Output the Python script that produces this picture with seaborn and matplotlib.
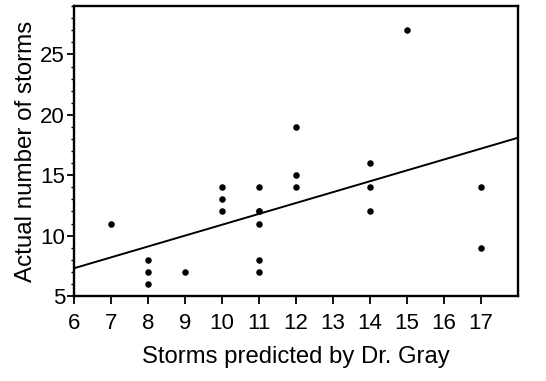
import matplotlib
matplotlib.use("Agg")
import matplotlib.pyplot as plt
import seaborn as sns
import pandas as pd
from matplotlib.ticker import MultipleLocator

sns.set_theme(style="ticks")
plt.rcParams["font.family"] = ["Liberation Sans", "DejaVu Sans"]

# Storm counts: Dr. Gray's predicted number vs. the actual number of storms
predicted = [7, 8, 8, 8, 9, 10, 10, 10, 11, 11, 11, 11, 11, 11,
             12, 12, 12, 14, 14, 14, 15, 17, 17]
actual = [11, 8, 7, 6, 7, 14, 13, 12, 14, 12, 12, 11, 8, 7,
          19, 15, 14, 16, 14, 12, 27, 14, 9]

# Fitted least-squares line (actual = intercept + slope * predicted)
fit_intercept = 1.9
fit_slope = 0.9
line_x = [6, 18]

x_ticks = list(range(6, 18))
y_ticks = [5, 10, 15, 20, 25]

df = pd.DataFrame({"predicted": predicted, "actual": actual})
line_df = pd.DataFrame({"x": line_x,
                        "y": [fit_intercept + fit_slope * v for v in line_x]})

fig = plt.figure(figsize=(5.46, 3.81), dpi=100)
ax = fig.add_axes([0.1355, 0.223, 0.813, 0.761])

sns.scatterplot(data=df, x="predicted", y="actual", ax=ax, color="black",
                s=22, edgecolor="black", linewidth=0, zorder=3)
sns.lineplot(data=line_df, x="x", y="y", ax=ax, color="black", linewidth=1.4)

ax.set_xlim(6, 18)
ax.set_ylim(5, 29)
ax.set_xticks(x_ticks)
ax.set_yticks(y_ticks)
ax.yaxis.set_minor_locator(MultipleLocator(1))
ax.tick_params(axis="x", which="major", direction="out", length=6, width=1.3,
               labelsize=16, color="black", labelcolor="black", pad=6)
ax.tick_params(axis="y", which="major", direction="out", length=5, width=1.3,
               labelsize=16, color="black", labelcolor="black", pad=1.5)
ax.tick_params(axis="y", which="minor", direction="out", length=2.5, width=1.0,
               color="black")

for sp in ax.spines.values():
    sp.set_visible(True)
    sp.set_linewidth(1.7)
    sp.set_color("black")

ax.set_xlabel("Storms predicted by Dr. Gray", fontsize=17.2, color="black", labelpad=9)
ax.set_ylabel("Actual number of storms", fontsize=17.4, color="black", labelpad=2)

fig.savefig("out.png", dpi=100, facecolor="white")
